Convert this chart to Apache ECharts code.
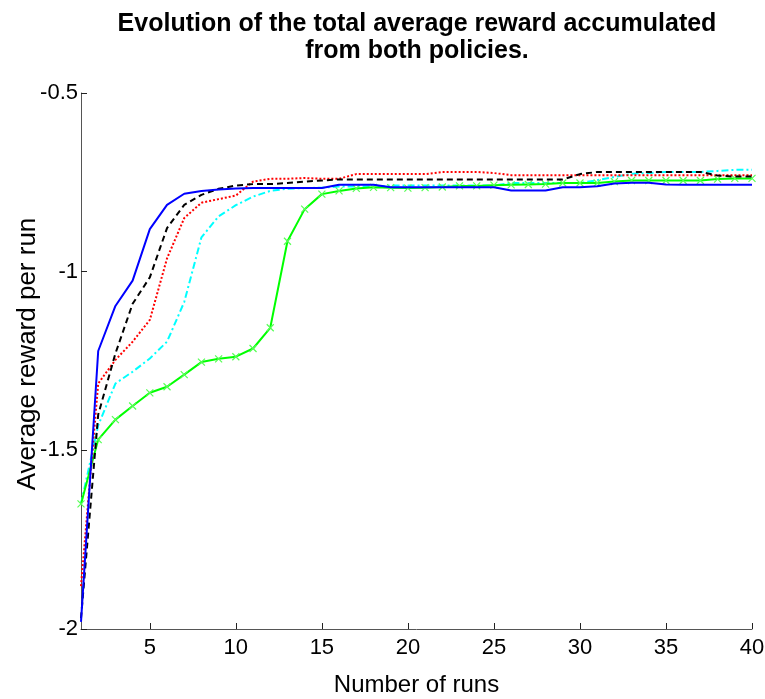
<!DOCTYPE html>
<html>
<head>
<meta charset="utf-8">
<script src="https://cdn.jsdelivr.net/npm/echarts@6/dist/echarts.min.js"></script>
<style>html,body{margin:0;padding:0;background:#fff;}#chart{width:765px;height:699px;}</style>
</head>
<body>
<div id="chart"></div>
<script>
const runs = Array.from({length: 40}, (_, i) => i + 1);
const xTickLabels = [5, 10, 15, 20, 25, 30, 35, 40];
const yTickLabels = [-2, -1.5, -1, -0.5];

const blueValues = [-1.98, -1.222, -1.096, -1.025, -0.881, -0.813, -0.782, -0.774, -0.770, -0.767,
  -0.766, -0.766, -0.766, -0.766, -0.766, -0.757, -0.757, -0.757, -0.764, -0.764,
  -0.764, -0.764, -0.764, -0.764, -0.764, -0.773, -0.773, -0.773, -0.764, -0.764,
  -0.761, -0.753, -0.751, -0.751, -0.756, -0.757, -0.757, -0.757, -0.757, -0.757];
const blackValues = [-1.97, -1.40, -1.229, -1.09, -1.016, -0.878, -0.813, -0.785, -0.768, -0.759,
  -0.755, -0.755, -0.752, -0.748, -0.745, -0.742, -0.742, -0.742, -0.742, -0.742,
  -0.742, -0.742, -0.742, -0.742, -0.742, -0.742, -0.742, -0.742, -0.742, -0.727,
  -0.721, -0.721, -0.721, -0.721, -0.721, -0.721, -0.721, -0.731, -0.734, -0.734];
const redValues = [-1.88, -1.313, -1.247, -1.196, -1.135, -0.963, -0.850, -0.807, -0.797, -0.787,
  -0.748, -0.740, -0.740, -0.738, -0.740, -0.740, -0.727, -0.727, -0.727, -0.727,
  -0.727, -0.721, -0.721, -0.721, -0.724, -0.730, -0.730, -0.730, -0.730, -0.730,
  -0.730, -0.730, -0.730, -0.730, -0.730, -0.730, -0.730, -0.730, -0.730, -0.730];
const cyanValues = [-1.65, -1.43, -1.313, -1.28, -1.243, -1.196, -1.085, -0.904, -0.845, -0.814,
  -0.790, -0.774, -0.768, -0.766, -0.765, -0.762, -0.762, -0.762, -0.759, -0.759,
  -0.759, -0.759, -0.759, -0.759, -0.759, -0.752, -0.752, -0.752, -0.752, -0.752,
  -0.744, -0.735, -0.726, -0.724, -0.721, -0.721, -0.721, -0.718, -0.715, -0.715];
const greenValues = [-1.65, -1.47, -1.414, -1.376, -1.339, -1.322, -1.288, -1.253, -1.244, -1.238,
  -1.215, -1.157, -0.915, -0.825, -0.783, -0.774, -0.767, -0.764, -0.765, -0.766,
  -0.765, -0.763, -0.760, -0.760, -0.758, -0.757, -0.756, -0.755, -0.752, -0.752,
  -0.752, -0.748, -0.745, -0.745, -0.745, -0.745, -0.745, -0.741, -0.739, -0.739];

const FONT = "'Liberation Sans', Arial, Helvetica, sans-serif";
const pairs = vals => runs.map((r, i) => [r, vals[i]]);

const chart = echarts.init(document.getElementById('chart'), null, {renderer: 'canvas'});
const lineSeries = (name, vals, color, type, width, z) => ({
  name, type: 'line', data: pairs(vals), showSymbol: false, symbol: 'none',
  lineStyle: {color, width, type}, itemStyle: {color}, z, animation: false
});

chart.setOption({
  animation: false,
  backgroundColor: '#ffffff',
  title: {
    text: 'Evolution of the total average reward accumulated\nfrom both policies.',
    left: 417, top: 11, padding: 0, textAlign: 'center',
    textStyle: {fontFamily: FONT, fontSize: 25, fontWeight: 'bold', color: '#000', lineHeight: 27}
  },
  grid: {left: 81, right: 13, top: 93, bottom: 70, containLabel: false, outerBoundsMode: 'none'},
  xAxis: {
    type: 'value', min: 1, max: 40,
    name: 'Number of runs', nameLocation: 'middle', nameGap: 44, nameMoveOverlap: false,
    nameTextStyle: {fontFamily: FONT, fontSize: 24, color: '#000'},
    axisLine: {show: true, lineStyle: {color: '#555', width: 1}},
    axisTick: {show: true, inside: true, length: 6, lineStyle: {color: '#222'}, customValues: xTickLabels},
    axisLabel: {fontFamily: FONT, fontSize: 22, color: '#000', margin: 8, customValues: xTickLabels},
    splitLine: {show: false}
  },
  yAxis: {
    type: 'value', min: -2, max: -0.5, interval: 0.5,
    name: 'Average reward per run', nameLocation: 'middle', nameGap: 40, nameMoveOverlap: false,
    nameTextStyle: {fontFamily: FONT, fontSize: 26, color: '#000', padding: [0, 0, 0, 14]},
    axisLine: {show: true, lineStyle: {color: '#555', width: 1}},
    axisTick: {show: true, inside: true, length: 6, lineStyle: {color: '#222'}},
    axisLabel: {fontFamily: FONT, fontSize: 22, color: '#000', margin: 3,
      formatter: v => String(v)},
    splitLine: {show: false}
  },
  series: [
    lineSeries('Cyan', cyanValues, '#00ffff', [7, 3, 2, 3], 2, 2),
    Object.assign(lineSeries('Green', greenValues, '#00ff00', 'solid', 2, 3), {
      showSymbol: true, symbol: 'path://M0,0 L10,10 M10,0 L0,10', symbolSize: 7,
      itemStyle: {color: '#00ff00', borderColor: '#55ff55', borderWidth: 1.2}
    }),
    lineSeries('Red', redValues, '#ff0000', [2, 2], 2, 4),
    lineSeries('Black', blackValues, '#000000', [6, 4], 2, 5),
    lineSeries('Blue', blueValues, '#0000ff', 'solid', 2, 6)
  ]
});
</script>
</body>
</html>
